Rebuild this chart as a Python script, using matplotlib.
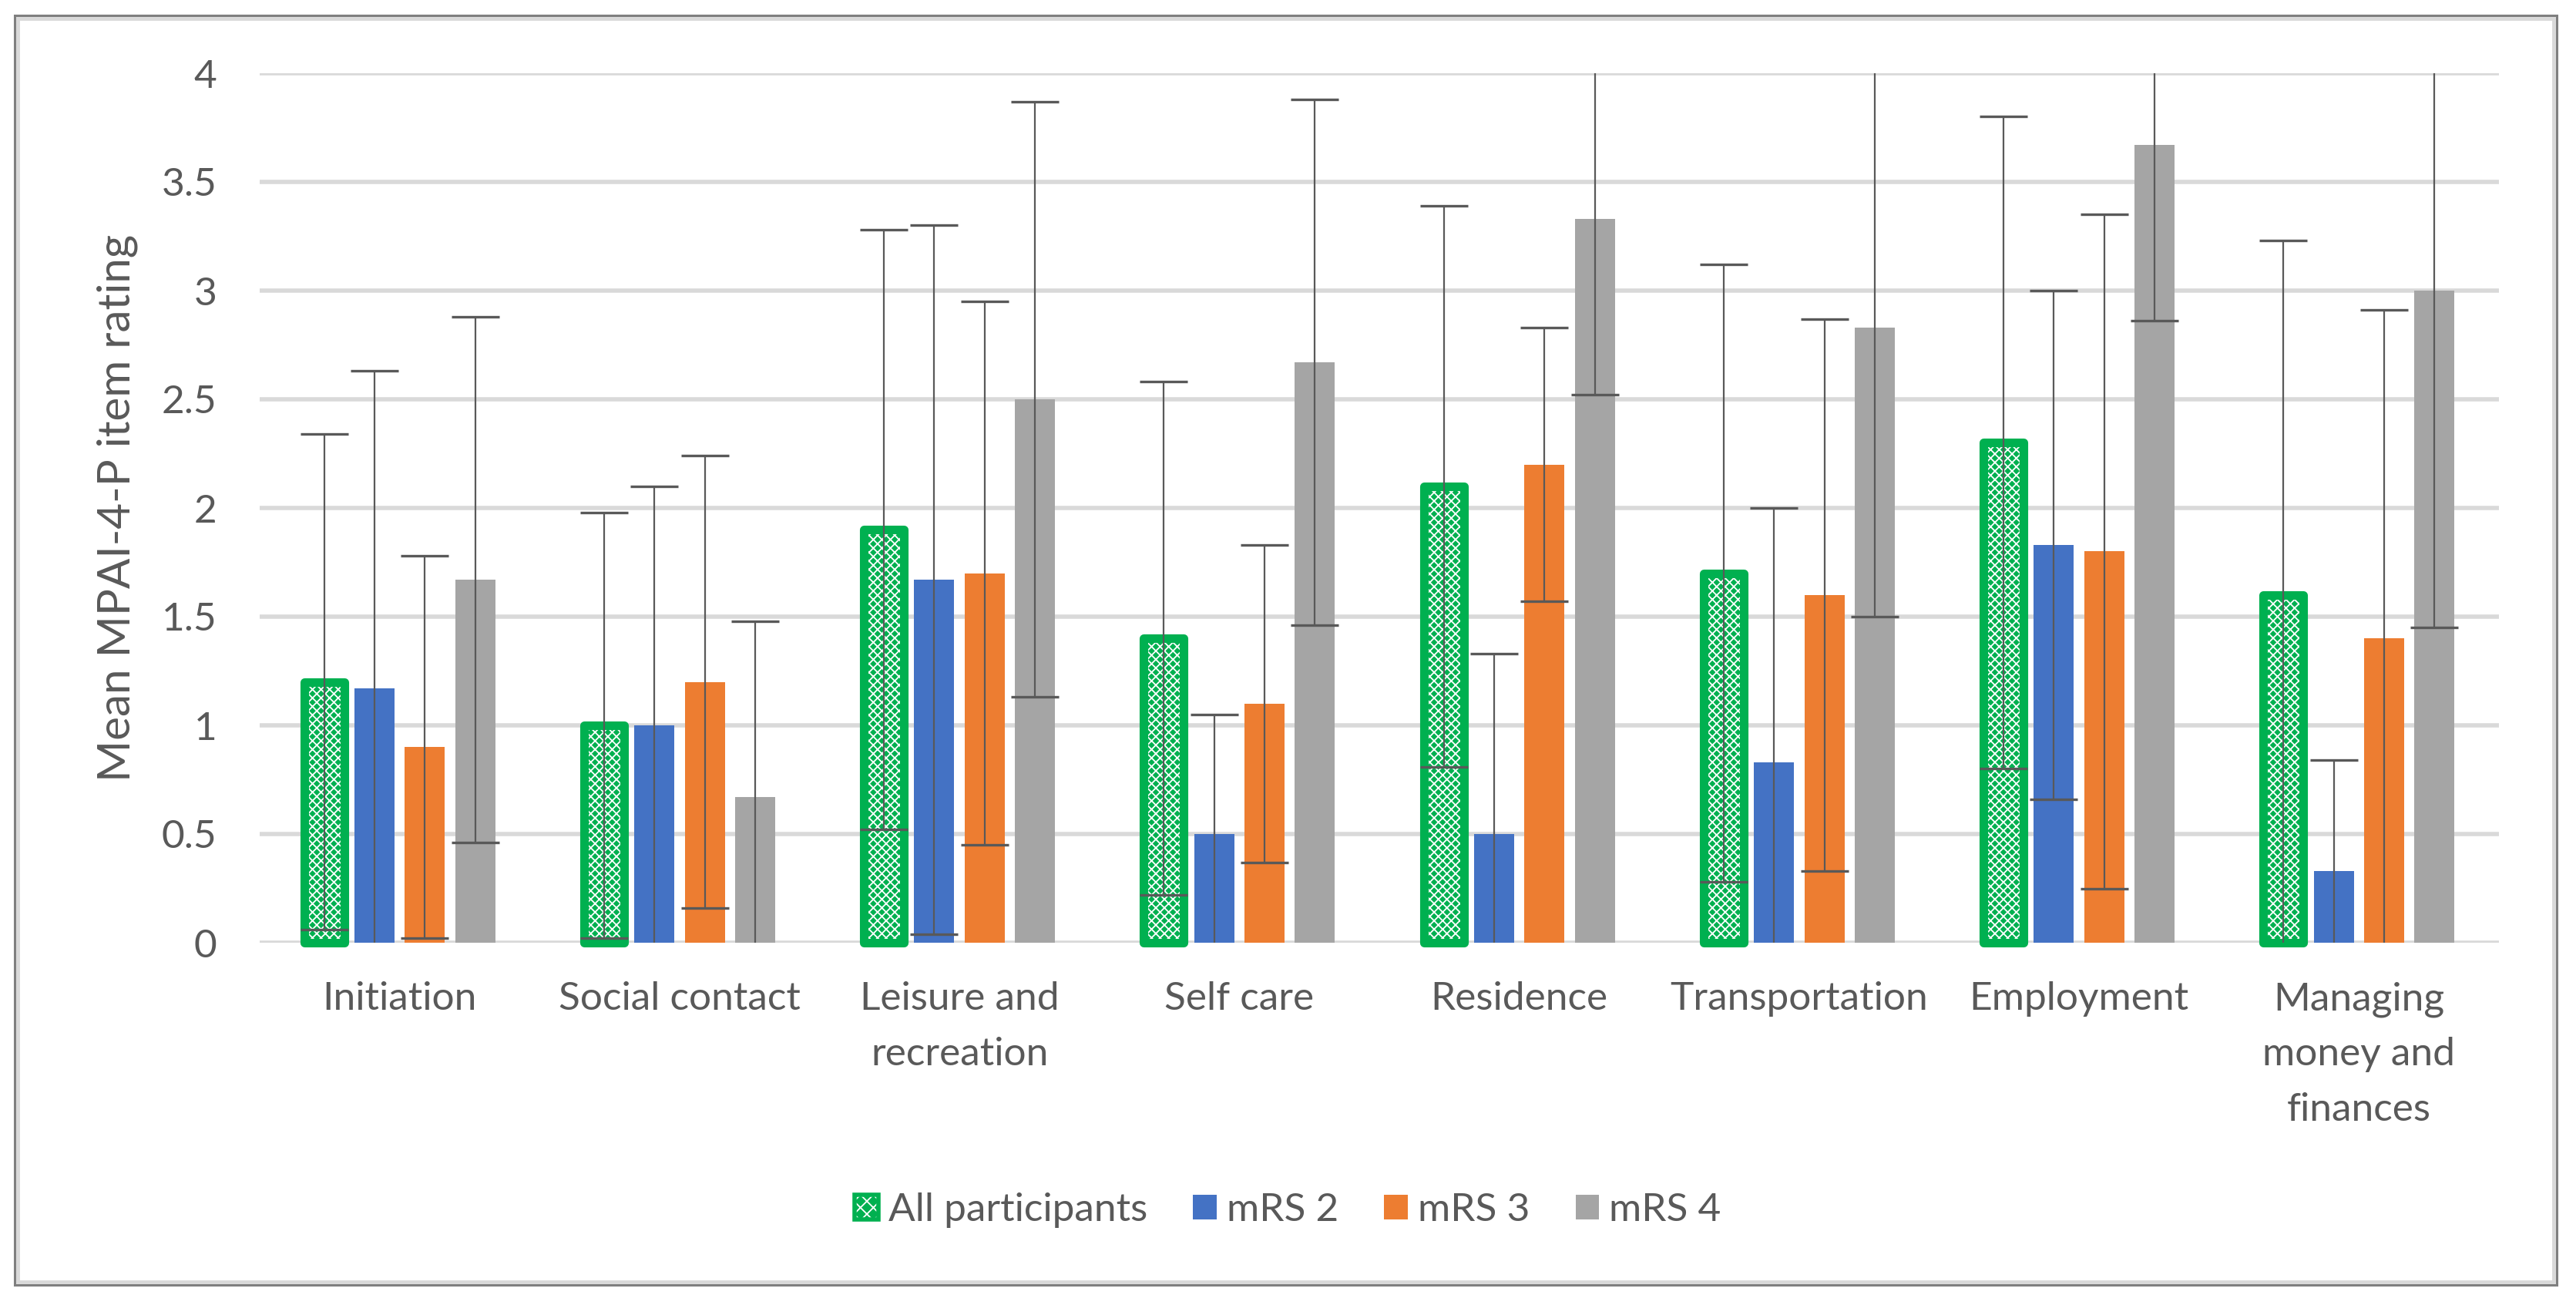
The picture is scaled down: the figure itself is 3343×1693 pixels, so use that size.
import numpy as np
import matplotlib
matplotlib.use("Agg")
import matplotlib.pyplot as plt
from matplotlib.patches import Patch, Rectangle
from matplotlib.legend_handler import HandlerTuple
from matplotlib.ticker import FuncFormatter

# values (mean +/- sd)
categories = ["Initiation", "Social contact", "Leisure and\nrecreation", "Self care",
              "Residence", "Transportation", "Employment", "Managing\nmoney and\nfinances"]
series = ["All participants", "mRS 2", "mRS 3", "mRS 4"]

all_mean = [1.2, 1.0, 1.9, 1.4, 2.1, 1.7, 2.3, 1.6]
all_sd = [1.14, 0.98, 1.38, 1.18, 1.29, 1.42, 1.5, 1.63]
mrs2_mean = [1.17, 1.0, 1.67, 0.5, 0.5, 0.83, 1.83, 0.33]
mrs2_sd = [1.46, 1.1, 1.63, 0.55, 0.83, 1.17, 1.17, 0.51]
mrs3_mean = [0.9, 1.2, 1.7, 1.1, 2.2, 1.6, 1.8, 1.4]
mrs3_sd = [0.88, 1.04, 1.25, 0.73, 0.63, 1.27, 1.55, 1.51]
mrs4_mean = [1.67, 0.67, 2.5, 2.67, 3.33, 2.83, 3.67, 3.0]
mrs4_sd = [1.21, 0.81, 1.37, 1.21, 0.81, 1.33, 0.81, 1.55]

green = "#00B050"
colors = [green, "#4472C4", "#ED7D31", "#A5A5A5"]
txt = "#595959"

plt.rcParams['font.family'] = ['Lato', 'DejaVu Sans']
plt.rcParams['hatch.linewidth'] = 1.3
plt.rcParams['hatch.color'] = 'white'

W, H = 3343, 1693
fig = plt.figure(figsize=(W / 100, H / 100), dpi=100)
ax = fig.add_axes([337 / W, 470 / H, (3243 - 337) / W, (1223 - 95) / H])

x = np.arange(len(categories))
step = 0.18
width = 0.143
means = [all_mean, mrs2_mean, mrs3_mean, mrs4_mean]
sds = [all_sd, mrs2_sd, mrs3_sd, mrs4_sd]

for j in range(4):
    pos = x + (j - 1.5) * step
    if j == 0:
        # solid green, white pattern on top, then thick rounded green outline
        ax.bar(pos, means[j], width, facecolor=green, linewidth=0, zorder=3)
        ax.bar(pos, means[j], width, facecolor="none", edgecolor="white", hatch="xxx",
               linewidth=0, zorder=3)
        ax.bar(pos, means[j], width, facecolor="none", edgecolor=green, linewidth=8,
               joinstyle="round", zorder=3, clip_on=False)
    else:
        ax.bar(pos, means[j], width, color=colors[j], linewidth=0, zorder=3)
    ax.errorbar(pos, means[j], yerr=sds[j], fmt="none", ecolor=txt, elinewidth=1.6,
                capsize=22, capthick=2.4, zorder=4)

ax.set_xlim(-0.5, len(categories) - 0.5)
ax.set_ylim(0, 4)
ax.set_yticks(np.arange(0, 4.01, 0.5))
ax.yaxis.set_major_formatter(FuncFormatter(lambda v, p: f"{v:g}"))
ax.set_xticks(x)
ax.set_xticklabels(categories, linespacing=1.7)
ax.grid(axis="y", color="#D9D9D9", linewidth=4, zorder=0)
ax.set_axisbelow(True)
for s in ax.spines.values():
    s.set_visible(False)
ax.tick_params(axis="both", length=0, labelsize=37, colors=txt)
ax.tick_params(axis="y", pad=40)
ax.tick_params(axis="x", pad=36)
ax.set_ylabel("Mean MPAI-4-P item rating", fontsize=42, color=txt, labelpad=22)

# legend
h_all = (Patch(facecolor=green, linewidth=0),
         Patch(facecolor="none", edgecolor="white", hatch="xx", linewidth=0),
         Patch(facecolor="none", edgecolor=green, linewidth=4, joinstyle="round"))
handles = [h_all] + [Patch(facecolor=c, linewidth=0) for c in colors[1:]]
fig.legend(handles, series, loc="center", bbox_to_anchor=(0.5, 123 / H), ncol=4,
           frameon=False, fontsize=37, labelcolor=txt, handlelength=0.6,
           handleheight=0.6, handletextpad=0.25, columnspacing=1.15,
           handler_map={tuple: HandlerTuple(ndivide=1)})

# outer chart border
fig.patches.append(Rectangle((19 / W, 26 / H), (3318 - 19) / W, (1673 - 26) / H,
                             transform=fig.transFigure, fill=False,
                             edgecolor="#7F7F7F", linewidth=2.2))
fig.patches.append(Rectangle((23 / W, 30 / H), (3314 - 23) / W, (1669 - 30) / H,
                             transform=fig.transFigure, fill=False,
                             edgecolor="#D9D9D9", linewidth=3.5))

fig.savefig("out.png", dpi=100, facecolor="white")
